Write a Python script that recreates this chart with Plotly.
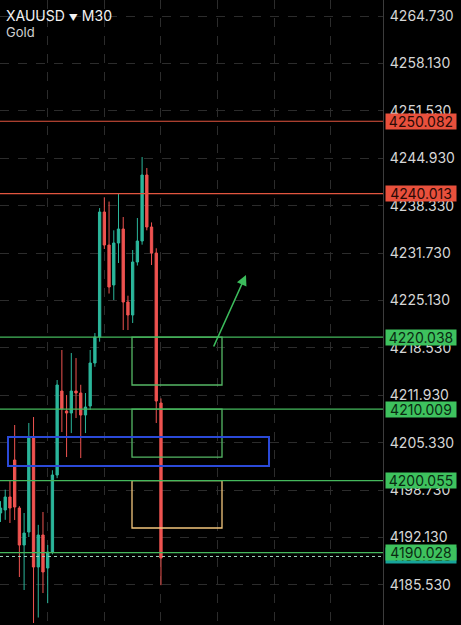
import plotly.graph_objects as go

# ---- data ----
candle_idx = list(range(35))
opens = [4195.55, 4195.97, 4197.78, 4202.93, 4196.24, 4191.09, 4192.90, 4205.99, 4188.03, 4192.49,
         4187.89, 4190.12, 4200.84, 4212.53, 4209.75, 4209.47, 4212.53, 4212.25, 4209.19, 4210.44,
         4216.43, 4220.05, 4237.45, 4232.85, 4227.29, 4233.13, 4235.08, 4224.92, 4223.11, 4230.49,
         4233.41, 4242.60, 4235.36, 4231.74, 4210.86]
highs = [4197.20, 4198.80, 4200.14, 4207.80, 4196.50, 4195.55, 4208.08, 4208.91, 4193.90, 4195.69,
         4191.10, 4201.50, 4214.06, 4218.24, 4211.97, 4217.82, 4217.12, 4213.40, 4212.25, 4218.24,
         4220.60, 4238.00, 4239.50, 4238.90, 4234.90, 4240.09, 4236.75, 4225.80, 4232.16, 4236.61,
         4245.10, 4243.57, 4236.00, 4232.40, 4211.50]
lows = [4194.30, 4194.60, 4194.16, 4194.57, 4186.64, 4184.83, 4192.21, 4180.24, 4181.00, 4184.41,
        4183.00, 4189.80, 4200.40, 4206.82, 4203.34, 4206.68, 4208.77, 4203.20, 4206.68, 4209.90,
        4215.90, 4219.40, 4232.30, 4226.10, 4225.20, 4230.35, 4221.02, 4221.02, 4222.00, 4230.00,
        4232.90, 4234.90, 4230.07, 4208.08, 4185.50]
closes = [4196.24, 4197.78, 4196.24, 4196.38, 4191.09, 4192.76, 4205.99, 4188.03, 4192.49, 4187.34,
          4190.12, 4200.84, 4213.37, 4210.03, 4209.47, 4212.53, 4212.25, 4209.19, 4210.30, 4216.43,
          4220.05, 4237.45, 4232.85, 4227.01, 4233.13, 4235.08, 4224.92, 4223.11, 4230.49, 4233.41,
          4242.60, 4235.36, 4231.74, 4211.14, 4189.28]

tick_values = [4185.53, 4192.13, 4198.73, 4205.33, 4211.93, 4218.53, 4225.13,
               4231.73, 4238.33, 4244.93, 4251.53, 4258.13, 4264.73]
tick_labels = ["4185.530", "4192.130", "4198.730", "4205.330", "4211.930", "4218.530", "4225.130",
               "4231.730", "4238.330", "4244.930", "4251.530", "4258.130", "4264.730"]

red_levels = [4250.082, 4240.013]
green_levels = [4220.038, 4210.009, 4200.055, 4190.028]
current_price = 4189.50

# zones: (x_start, x_end, price_low, price_high)
green_zones = [(27.86, 46.93, 4213.37, 4220.038), (27.86, 46.93, 4203.34, 4210.009)]
yellow_zone = (27.86, 46.93, 4193.46, 4200.055)
blue_zone = (1.59, 56.89, 4202.09, 4206.13)
arrow_from = (45.02, 4218.52)
arrow_to = (52.01, 4228.68)

x_grid = [10, 22, 34, 46, 58, 70]
x_range = [-0.106, 81.04]
y_range = [4179.96, 4266.96]

INC = "#2bb69b"
DEC = "#ef5350"
GREEN = "#45b85c"
RED = "#e2553f"
FONT = "Inter"

fig = go.Figure()
fig.add_trace(go.Candlestick(
    x=candle_idx, open=opens, high=highs, low=lows, close=closes,
    increasing=dict(line=dict(color=INC, width=1), fillcolor=INC),
    decreasing=dict(line=dict(color=DEC, width=1), fillcolor=DEC),
    whiskerwidth=0, hoverinfo="skip", showlegend=False,
))

shapes = []
for (x0, x1, y0, y1) in green_zones:
    shapes.append(dict(type="rect", xref="x", yref="y", x0=x0, x1=x1, y0=y0, y1=y1,
                       line=dict(color="#55b865", width=1.3), layer="above"))
x0, x1, y0, y1 = yellow_zone
shapes.append(dict(type="rect", xref="x", yref="y", x0=x0, x1=x1, y0=y0, y1=y1,
                   line=dict(color="#f2c57c", width=1.3), layer="above"))
x0, x1, y0, y1 = blue_zone
shapes.append(dict(type="rect", xref="x", yref="y", x0=x0, x1=x1, y0=y0, y1=y1,
                   line=dict(color="#2b4ad8", width=2), layer="above"))
for lv in red_levels:
    shapes.append(dict(type="line", xref="paper", yref="y", x0=0, x1=1, y0=lv, y1=lv,
                       line=dict(color=RED, width=1.2), layer="above"))
for lv in green_levels:
    shapes.append(dict(type="line", xref="paper", yref="y", x0=0, x1=1, y0=lv, y1=lv,
                       line=dict(color=GREEN, width=1.2), layer="above"))
shapes.append(dict(type="line", xref="paper", yref="y", x0=0, x1=1, y0=current_price, y1=current_price,
                   line=dict(color="#9fd6bd", width=1, dash="dot"), layer="above"))

annotations = []
# current price label (teal, behind)
annotations.append(dict(xref="paper", yref="y", x=1, y=green_levels[-1], xanchor="left", yanchor="middle",
                        xshift=2, yshift=-3, text="4190.028", showarrow=False, width=70, height=15,
                        borderpad=0, bgcolor="#17a39a", font=dict(family=FONT, size=14, color="#0a2a12")))
for lv in red_levels:
    annotations.append(dict(xref="paper", yref="y", x=1, y=lv, xanchor="left", yanchor="middle",
                            xshift=2, text=f"{lv:.3f}", showarrow=False, width=70, height=15,
                            borderpad=0, bgcolor="#e8503c",
                            font=dict(family=FONT, size=14, color="#2a0a06")))
for lv in green_levels:
    annotations.append(dict(xref="paper", yref="y", x=1, y=lv, xanchor="left", yanchor="middle",
                            xshift=2, text=f"{lv:.3f}", showarrow=False, width=70, height=15,
                            borderpad=0, bgcolor="#3ec25e",
                            font=dict(family=FONT, size=14, color="#0a2a12")))
annotations.append(dict(xref="x", yref="y", axref="x", ayref="y",
                        x=arrow_to[0], y=arrow_to[1], ax=arrow_from[0], ay=arrow_from[1],
                        showarrow=True, arrowhead=2, arrowsize=1.3, arrowwidth=1.6,
                        arrowcolor="#3cbc5c", text=""))
annotations.append(dict(xref="paper", yref="paper", x=0, y=1, xanchor="left", yanchor="top",
                        xshift=4, yshift=-5, showarrow=False, align="left",
                        text="XAUUSD <span style='font-size:9px'>▼</span> M30",
                        font=dict(family=FONT, size=14, color="#f2f2f2")))
annotations.append(dict(xref="paper", yref="paper", x=0, y=1, xanchor="left", yanchor="top",
                        xshift=4, yshift=-22, showarrow=False, align="left",
                        text="Gold", font=dict(family=FONT, size=13, color="#d0d0d0")))

fig.update_layout(
    width=461, height=625,
    margin=dict(l=0, r=78, t=0, b=0),
    paper_bgcolor="#000000", plot_bgcolor="#000000",
    shapes=shapes, annotations=annotations,
    showlegend=False,
    xaxis=dict(range=x_range, rangeslider=dict(visible=False), showticklabels=False,
               tickvals=x_grid, showgrid=True, gridcolor="#2c2c2c", griddash="dash", gridwidth=1,
               zeroline=False, showline=False, ticks="", fixedrange=True),
    yaxis=dict(range=y_range, side="right", tickvals=tick_values, ticktext=tick_labels,
               showgrid=True, gridcolor="#2c2c2c", griddash="dash", gridwidth=1,
               zeroline=False, showline=True, linecolor="#3c3c3c", linewidth=1, ticks="",
               ticklabelstandoff=3,
               tickfont=dict(family=FONT, size=14, color="#d6d6d6")),
)

fig.write_html("out.html", config={"displayModeBar": False},
               post_script="document.body.style.margin='0';document.body.style.background='#000';")
